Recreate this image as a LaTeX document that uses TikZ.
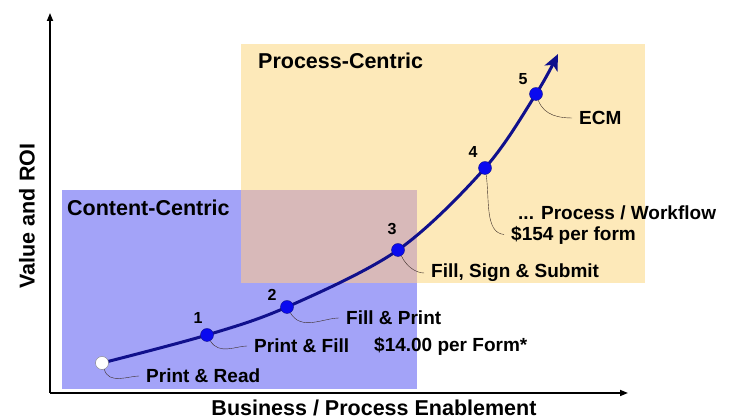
\documentclass[tikz,border=0pt]{standalone}
\usepackage{fontspec}
\setmainfont{Liberation Sans}
\usetikzlibrary{arrows.meta}
\definecolor{contentblue}{RGB}{163,163,248}
\definecolor{processtan}{RGB}{253,233,185}
\definecolor{overlapred}{RGB}{216,185,185}
\definecolor{curvenavy}{RGB}{16,16,140}
\definecolor{dotblue}{RGB}{10,10,240}
\definecolor{calloutbrown}{RGB}{60,45,40}
\begin{document}
\begin{tikzpicture}[x=1pt,y=1pt,
  lbl/.style={font=\fontsize{19}{22}\selectfont\bfseries,anchor=west,inner sep=1pt},
  ttl/.style={font=\fontsize{21.5}{25}\selectfont\bfseries,inner sep=0pt},
  num/.style={font=\fontsize{16}{19}\selectfont\bfseries,inner sep=0pt},
  stage/.style={circle,draw=curvenavy,fill=dotblue,minimum size=13pt,inner sep=0pt,thin},
  callout/.style={draw=calloutbrown,thin,shorten >=6pt}]
\useasboundingbox (0,0) rectangle (734,419);
\fill[contentblue] (62,30) rectangle (417,229);
\fill[processtan] (241,136) rectangle (645,375);
\fill[overlapred] (241,136) rectangle (417,229);
\coordinate (o) at (50,26);
\coordinate (ytop) at (50,406);
\coordinate (xend) at (628,26);
\draw[line width=1.6pt,-{Triangle[length=8pt,width=6pt]}] (o) -- (ytop);
\draw[line width=1.6pt,-{Triangle[length=8pt,width=6pt]}] (o) -- (xend);
\node[ttl,rotate=90] (yl) at (27,203) {Value and ROI};
\node[ttl] (xl) at (374,11) {Business / Process Enablement};
\node[ttl,anchor=west] (cc) at (67,211) {Content-Centric};
\node[ttl,anchor=west] (pc) at (258,358) {Process-Centric};
% the curve
\coordinate (c0) at (102,56);
\coordinate (c1) at (207,84);
\coordinate (c2) at (287,112);
\coordinate (c3) at (398,169);
\coordinate (c4) at (485,251);
\coordinate (c5) at (536,325);
\coordinate (tip) at (558,365);
\draw[curvenavy,line width=3pt,-{Stealth[length=16pt,width=14pt,inset=4pt]}]
  plot[smooth,tension=0.55] coordinates {(c0) (c1) (c2) (c3) (c4) (c5) (tip)};
\node[stage,fill=white,draw=gray] (s0) at (c0) {};
\node[stage] (s1) at (c1) {};
\node[stage] (s2) at (c2) {};
\node[stage] (s3) at (c3) {};
\node[stage] (s4) at (c4) {};
\node[stage] (s5) at (c5) {};
\node[num] (n1) at (198,101) {1};
\node[num] (n2) at (272,124) {2};
\node[num] (n3) at (392,190) {3};
\node[num] (n4) at (473,267) {4};
\node[num] (n5) at (523,340) {5};
% labels
\node[lbl] (read) at (145,43) {Print \& Read};
\node[lbl] (pfill) at (253,73) {Print \& Fill};
\node[lbl] (fprint) at (345,101) {Fill \& Print};
\node[lbl] (cost1) at (373,73) {\$14.00 per Form*};
\node[lbl] (submit) at (430,146) {Fill, Sign \& Submit};
\node[lbl] (flow) at (517,206) {... Process / Workflow};
\node[lbl] (cost2) at (510,184) {\$154 per form};
\node[lbl] (ecm) at (578,301) {ECM};
\draw[callout] (s0.-70) to[out=-75,in=180] (read.west);
\draw[callout] (s1.-60) to[out=-60,in=180] (pfill.west);
\draw[callout] (s2.-60) to[out=-60,in=180] (fprint.west);
\draw[callout] (s3.-60) to[out=-65,in=180] (submit.west);
\draw[callout] (s4.-80) to[out=-82,in=175] (cost2.west);
\draw[callout] (s5.-70) to[out=-70,in=180] (ecm.west);
\end{tikzpicture}
\end{document}
